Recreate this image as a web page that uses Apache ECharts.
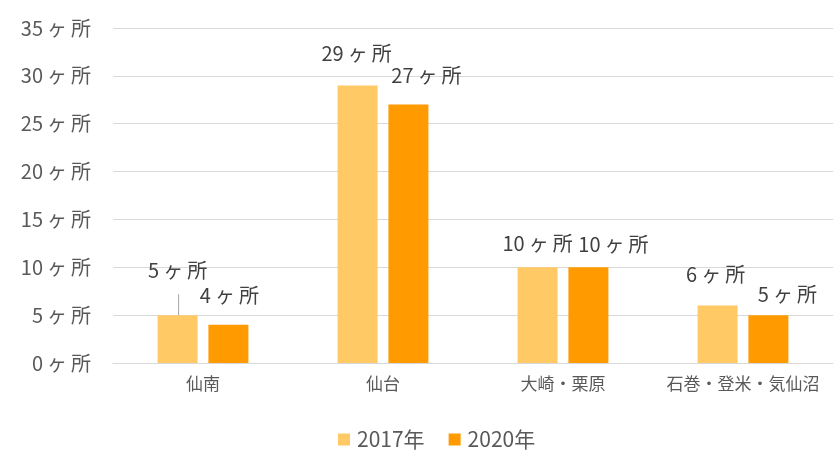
<!DOCTYPE html>
<html><head><meta charset="utf-8">
<script src="https://cdn.jsdelivr.net/npm/echarts@6/dist/echarts.min.js"></script>
<style>html,body{margin:0;padding:0;background:#fff}#c{width:836px;height:457px}</style>
</head><body><div id="c"></div>
<script>
const categories = ['仙南', '仙台', '大崎・栗原', '石巻・登米・気仙沼'];
const seriesNames = ['2017年', '2020年'];
const values2017 = [5, 29, 10, 6];
const values2020 = [4, 27, 10, 5];
const yTicks = [0, 5, 10, 15, 20, 25, 30, 35];
const unit = 'ヶ所';

// label placement (style only)
const off2017 = [[0, -30], [-1, -17], [0, -9], [-2, -16]];
const off2020 = [[1, -14], [18, -14], [25, -8], [19, -6]];

const font = '"Noto Sans CJK JP", "Noto Sans", sans-serif';
const fmt = v => v + '\u2009ヶ\u2009所';
const chart = echarts.init(document.getElementById('c'));
function mk(vals, offs) {
  return vals.map((v, i) => ({ value: v, label: { offset: offs[i] } }));
}
chart.setOption({
  animation: false,
  textStyle: { fontFamily: font },
  grid: { left: 113, right: 3, top: 28, bottom: 94 },
  legend: {
    bottom: 2, left: 333, itemWidth: 12, itemHeight: 12, itemGap: 24,
    icon: 'rect',
    textStyle: { color: '#595959', fontSize: 21, fontFamily: font, padding: [0, 0, 0, 2] }
  },
  xAxis: {
    type: 'category', data: categories,
    axisLine: { lineStyle: { color: '#d9d9d9' } },
    axisTick: { show: false },
    axisLabel: { color: '#595959', fontSize: 17, margin: 12, fontFamily: font, interval: 0, hideOverlap: false }
  },
  yAxis: {
    type: 'value', min: 0, max: 35, interval: 5,
    axisLine: { show: false }, axisTick: { show: false },
    splitLine: { lineStyle: { color: '#d9d9d9', width: 1 } },
    axisLabel: {
      color: '#595959', fontSize: 20, margin: 22, fontFamily: font,
      formatter: v => yTicks.includes(v) ? fmt(v) : ''
    }
  },
  series: [
    {
      name: seriesNames[0], type: 'bar', barWidth: 40, barGap: '27%',
      itemStyle: { color: '#FFC966' },
      label: { show: true, position: 'top', color: '#404040', fontSize: 20, fontFamily: font,
        formatter: p => fmt(p.value) },
      data: mk(values2017, off2017)
    },
    {
      name: seriesNames[1], type: 'bar', barWidth: 40,
      itemStyle: { color: '#FF9A00' },
      label: { show: true, position: 'top', color: '#404040', fontSize: 20, fontFamily: font,
        formatter: p => fmt(p.value) },
      data: mk(values2020, off2020)
    }
  ]
});
// leader line for the displaced 仙南 2017 label, positioned via the chart's scales
const p0 = chart.convertToPixel({ seriesIndex: 0 }, [0, values2017[0]]);
const barW = 40, gapW = 40 * 0.27;
const cx = p0[0] - (barW + gapW) / 2 + 1;
chart.setOption({
  graphic: [{
    type: 'line', shape: { x1: cx, y1: p0[1] - 21, x2: cx, y2: p0[1] },
    style: { stroke: '#a6a6a6', lineWidth: 1 }, z: 100
  }]
});
</script></body></html>
